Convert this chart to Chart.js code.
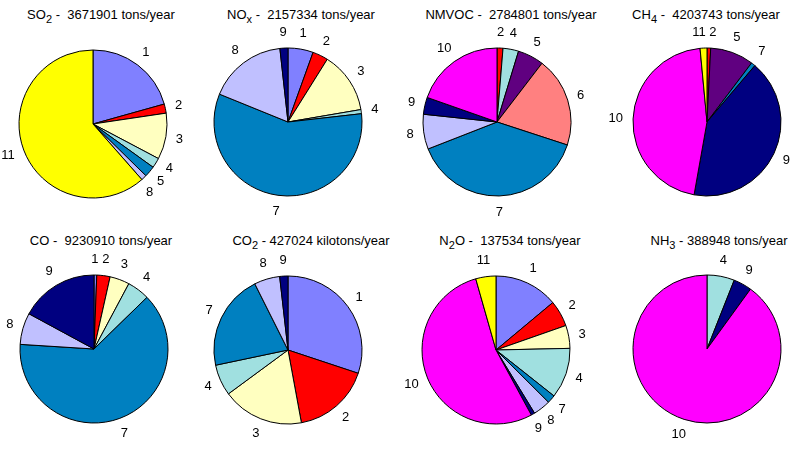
<!DOCTYPE html>
<html>
<head>
<meta charset="utf-8">
<script src="https://cdn.jsdelivr.net/npm/chart.js@4/dist/chart.umd.min.js"></script>
<style>
  body { margin: 0; background: #fff; font-family: Arial, "Liberation Sans", sans-serif; }
  #page { position: relative; width: 798px; height: 475px; overflow: hidden; }
  .title { position: absolute; font-size: 13px; line-height: 15px; white-space: pre; transform: translateX(-50%); color: #000; }
  .title sub { font-size: 11px; vertical-align: -4px; line-height: 0; }
  canvas { position: absolute; }
</style>
</head>
<body>
<div id="page"></div>
<script>
// sector shares (percent), clockwise from 12 o'clock
const so2Labels = ['1', '2', '3', '4', '5', '8', '11'];
const so2Values = [20.7, 2.0, 10.1, 2.2, 2.4, 1.2, 61.6];

const noxLabels = ['1', '2', '3', '4', '7', '8', '9'];
const noxValues = [5.5, 3.4, 13.4, 0.9, 57.9, 17.1, 1.75];

const nmvocLabels = ['2', '4', '5', '6', '7', '8', '9', '10'];
const nmvocValues = [1.3, 3.4, 5.7, 19.6, 39.0, 7.6, 3.7, 19.6];

const ch4Labels = ['2', '5', '7', '9', '10', '11'];
const ch4Values = [0.8, 9.5, 0.9, 41.6, 45.7, 1.5];

const coLabels = ['1', '2', '3', '4', '7', '8', '9'];
const coValues = [0.6, 2.9, 4.3, 4.9, 63.3, 6.9, 17.1];

const co2Labels = ['1', '2', '3', '4', '7', '8', '9'];
const co2Values = [30.1, 17.0, 17.8, 6.8, 20.9, 5.6, 1.8];

const n2oLabels = ['1', '2', '3', '4', '7', '8', '9', '10', '11'];
const n2oValues = [13.9, 5.7, 5.0, 11.0, 1.8, 3.8, 0.8, 53.4, 4.4];

const nh3Labels = ['4', '9', '10'];
const nh3Values = [6.0, 4.0, 90.0];

// sector colours (old Excel chart palette)
const palette = {
  '1': '#8080ff', '2': '#ff0000', '3': '#ffffc0', '4': '#a0e0e0',
  '5': '#600080', '6': '#ff8080', '7': '#0080c0', '8': '#c0c0ff',
  '9': '#000080', '10': '#ff00ff', '11': '#ffff00'
};

const pies = [
  { title: 'SO<sub>2</sub> -  3671901 tons/year', labels: so2Labels, values: so2Values,
    colorKeys: ['1', '2', '3', '4', '7', '8', '11'], cx: 93, cy: 124, tx: 101, ty: 14 },
  { title: 'NO<sub>x</sub> -  2157334 tons/year', labels: noxLabels, values: noxValues,
    cx: 288, cy: 122, tx: 301, ty: 14 },
  { title: 'NMVOC -  2784801 tons/year', labels: nmvocLabels, values: nmvocValues,
    cx: 497, cy: 122, tx: 511, ty: 14 },
  { title: 'CH<sub>4</sub> -  4203743 tons/year', labels: ch4Labels, values: ch4Values,
    cx: 707, cy: 122, tx: 706, ty: 14 },
  { title: 'CO -  9230910 tons/year', labels: coLabels, values: coValues,
    cx: 94, cy: 349, tx: 101, ty: 240 },
  { title: 'CO<sub>2</sub> - 427024 kilotons/year', labels: co2Labels, values: co2Values,
    cx: 288, cy: 350, tx: 311, ty: 240 },
  { title: 'N<sub>2</sub>O -  137534 tons/year', labels: n2oLabels, values: n2oValues,
    cx: 496, cy: 350, tx: 510, ty: 240 },
  { title: 'NH<sub>3</sub> - 388948 tons/year', labels: nh3Labels, values: nh3Values,
    cx: 707, cy: 349, tx: 719, ty: 240 }
];

// numbers outside each slice, at the slice's mid angle; crowded ones get spread apart
const sliceLabels = {
  id: 'sliceLabels',
  afterDatasetsDraw(chart) {
    const ctx = chart.ctx;
    const meta = chart.getDatasetMeta(0);
    ctx.save();
    ctx.font = '13px Arial, "Liberation Sans", sans-serif';
    ctx.fillStyle = '#000';
    ctx.textAlign = 'center';
    ctx.textBaseline = 'middle';

    const items = meta.data.map((arc, i) => {
      const p = arc.getProps(['x', 'y', 'startAngle', 'endAngle', 'outerRadius'], true);
      const text = chart.data.labels[i];
      return { p, text, w: ctx.measureText(text).width, a: (p.startAngle + p.endAngle) / 2 };
    });

    const n = items.length;
    const rl = items[0].p.outerRadius + 14;
    for (let iter = 0; iter < 60; iter++) {
      for (let i = 0; i < n; i++) {
        const A = items[i], B = items[(i + 1) % n];
        let diff = B.a - A.a;
        if (i === n - 1) diff += Math.PI * 2;
        const m = (A.a + B.a) / 2;
        const need = (Math.abs(Math.sin(m)) * ((A.w + B.w) / 2 + 3) + Math.abs(Math.cos(m)) * 12) / rl;
        if (diff < need) {
          const push = (need - diff) / 2;
          A.a -= push;
          B.a += push;
        }
      }
    }

    items.forEach(it => {
      const dx = Math.cos(it.a), dy = Math.sin(it.a);
      const r = it.p.outerRadius + 10;
      ctx.fillText(it.text, it.p.x + dx * r + dx * it.w / 2, it.p.y + dy * r + dy * 6);
    });
    ctx.restore();
  }
};

const page = document.getElementById('page');
const size = 200;

pies.forEach(pie => {
  const t = document.createElement('div');
  t.className = 'title';
  t.innerHTML = pie.title;
  t.style.left = pie.tx + 'px';
  t.style.top = (pie.ty - 7.5) + 'px';
  page.appendChild(t);

  const c = document.createElement('canvas');
  c.width = size;
  c.height = size;
  c.style.left = (pie.cx - size / 2) + 'px';
  c.style.top = (pie.cy - size / 2) + 'px';
  page.appendChild(c);

  const keys = pie.colorKeys || pie.labels;
  new Chart(c, {
    type: 'pie',
    data: {
      labels: pie.labels,
      datasets: [{
        data: pie.values,
        backgroundColor: keys.map(k => palette[k]),
        borderColor: '#000',
        borderWidth: 1
      }]
    },
    options: {
      responsive: false,
      animation: false,
      events: [],
      radius: 74,
      plugins: {
        legend: { display: false },
        tooltip: { enabled: false }
      }
    },
    plugins: [sliceLabels]
  });
});
</script>
</body>
</html>
